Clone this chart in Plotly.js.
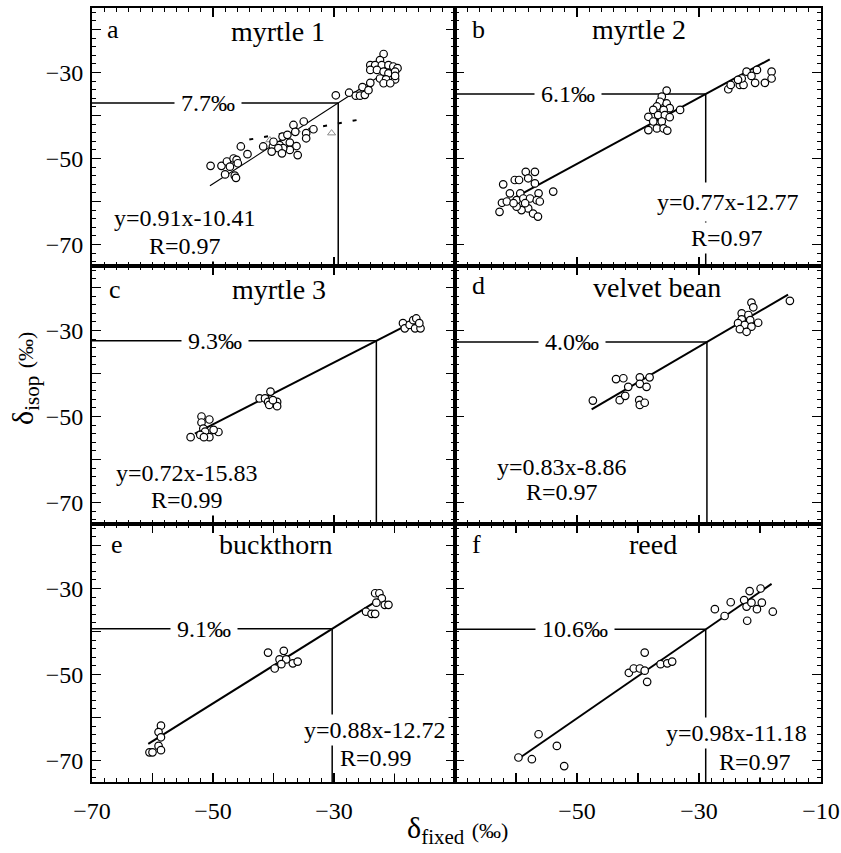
<!DOCTYPE html>
<html><head><meta charset="utf-8">
<script src="https://cdn.plot.ly/plotly-3.0.1.min.js"></script>
<style>body{margin:0;background:#fff}</style>
</head><body><div id="chart" style="width:841px;height:853px"></div>
<script>
// ---------- data ----------
// panel a: myrtle 1
const aX = [-50.4,-48.6,-47.7,-46.6,-46.1,-47.2,-45.9,-48.0,-46.4,-46.2,-45.4,-44.3,
  -41.7,-40.1,-39.0,-38.5,-36.7,-35.0,-33.4,-34.6,-34.6,-37.7,-37.3,-36.2,-36.0,-37.3,-38.4,-39.2,-40.3,-38.6,-40.0,-36.4,
  -29.7,-27.5,-26.4,-25.7,-24.9,-25.3,-24.3,-24.0,
  -21.8,-22.4,-24.0,-23.2,-22.1,-21.0,-20.2,-19.5,-24.0,-22.9,-21.8,-21.0,-19.9,-22.4,-21.4,-19.9,-21.8,-20.7,-19.9];
const aY = [-51.7,-51.7,-50.7,-50.0,-50.3,-51.9,-51.1,-53.7,-54.0,-54.5,-47.2,-49.0,
  -47.2,-47.2,-46.9,-44.9,-42.2,-41.4,-43.2,-44.1,-45.3,-44.5,-46.3,-47.1,-49.2,-48.0,-47.6,-47.6,-48.4,-48.8,-46.1,-43.8,
  -35.3,-34.7,-35.4,-35.4,-35.2,-33.4,-34.1,-32.4,
  -25.7,-27.1,-28.3,-28.3,-28.3,-28.3,-28.6,-29.0,-29.4,-29.4,-29.8,-30.2,-29.8,-31.4,-31.6,-31.6,-32.5,-32.5,-30.8];
const aTriX = [-40.6,-39.6,-36.2,-30.4];
const aTriY = [-45.7,-46.5,-43.4,-44.1];
const aDashX = [-44.0,-24.8];
const aDashY = [-45.6,-40.7];
// panel b: myrtle 2
const bX = [-62.7,-62.3,-62.1,-61.0,-60.2,-59.5,-58.4,-56.9,-58.0,-56.9,-59.3,-59.9,-58.8,-57.7,-56.3,-56.6,-56.1,-58.0,-59.1,-57.2,-56.4,-59.9,-53.9,-61.5,-60.4,-58.5,
  -35.3,-36.1,-36.4,-36.9,-35.3,-34.8,-35.8,-37.5,-38.3,-36.7,-35.6,-34.8,-33.1,-37.5,-36.1,-36.9,-38.3,-35.8,-35.2,
  -25.2,-24.8,-23.3,-22.7,-23.0,-22.2,-21.4,-20.8,-20.5,-19.2,-18.1,-18.1,-23.6];
const bY = [-62.4,-60.3,-56.0,-58.1,-55.0,-55.0,-53.1,-53.1,-54.6,-55.8,-58.1,-59.7,-59.3,-59.3,-58.1,-59.7,-60.0,-61.6,-62.0,-62.8,-63.5,-61.2,-57.7,-60.0,-60.4,-60.4,
  -34.2,-35.6,-36.8,-37.9,-37.2,-38.3,-38.7,-38.7,-40.3,-39.9,-39.9,-40.4,-38.7,-41.4,-41.4,-43.0,-43.4,-43.0,-43.5,
  -33.9,-32.9,-32.9,-32.9,-31.4,-29.8,-30.8,-32.4,-29.4,-32.4,-29.8,-31.4,-31.7];
// panel c: myrtle 3
const cX = [-53.7,-51.9,-50.6,-51.9,-51.6,-51.3,-52.1,-50.6,-51.5,-49.1,-49.9,
  -42.3,-41.4,-40.5,-40.9,-40.7,-39.4,-39.4,-40.1,
  -18.6,-18.3,-17.5,-16.9,-16.4,-16.6,-15.7,-15.9];
const cY = [-54.8,-50.0,-50.7,-51.4,-52.8,-53.5,-54.3,-54.8,-54.8,-53.6,-53.1,
  -45.8,-45.8,-44.2,-46.6,-47.3,-46.6,-47.6,-46.2,
  -28.3,-29.5,-28.7,-27.6,-27.2,-29.5,-29.5,-28.3];
// panel d: velvet bean
const dX = [-47.4,-43.6,-42.4,-41.6,-43.0,-42.1,-39.7,-38.1,-39.7,-38.6,-39.8,-39.7,-38.9,
  -21.4,-21.1,-23.0,-21.9,-23.0,-21.6,-20.3,-23.6,-22.5,-21.4,-23.3,-22.2,-15.1];
const dY = [-46.3,-41.3,-41.1,-43.1,-46.2,-45.2,-40.9,-40.9,-42.4,-43.1,-46.2,-47.3,-46.8,
  -23.5,-24.6,-26.0,-26.4,-27.4,-27.6,-28.2,-28.3,-28.7,-29.1,-29.7,-30.3,-23.1];
// panel e: buckthorn
const eX = [-58.6,-59.0,-58.6,-59.0,-58.6,-60.5,-60.0,
  -40.9,-38.3,-39.0,-37.9,-38.7,-39.8,-36.8,-36.0,
  -23.2,-22.5,-22.1,-23.0,-21.6,-21.0,-24.7,-23.8,-23.2];
const eY = [-61.9,-63.4,-64.6,-66.6,-67.6,-68.1,-68.1,
  -44.9,-44.5,-46.5,-46.5,-47.6,-48.6,-47.4,-47.0,
  -31.1,-31.1,-32.3,-33.3,-33.8,-33.8,-35.4,-35.9,-35.9];
// panel f: reed
const fX = [-59.6,-57.4,-56.3,-53.3,-52.1,
  -41.5,-40.7,-39.7,-38.9,-38.9,-38.5,-36.3,-35.2,-34.4,
  -27.4,-25.8,-24.8,-22.6,-21.7,-19.9,-22.2,-21.4,-20.5,-19.7,-22.1,-17.9];
const fY = [-69.3,-69.7,-63.9,-66.6,-71.3,
  -49.6,-48.6,-48.6,-49.1,-44.9,-51.7,-47.6,-47.4,-47.0,
  -34.8,-36.4,-33.2,-32.7,-30.6,-30.0,-34.2,-33.3,-34.8,-33.3,-37.5,-35.4];

const panelNames   = ['myrtle 1','myrtle 2','myrtle 3','velvet bean','buckthorn','reed'];
const panelLetters = ['a','b','c','d','e','f'];
const slopes       = [0.91,0.77,0.72,0.83,0.88,0.98];
const intercepts   = [-10.41,-12.77,-15.83,-8.86,-12.72,-11.18];
const rValues      = ['0.97','0.97','0.99','0.97','0.99','0.97'];
const fitStart     = [-50.5,-60.5,-53.0,-47.6,-60.7,-59.3];
const fitEnd       = [-20.5,-18.4,-17.2,-15.4,-21.8,-18.1];
const refX         = [-29.3,-28.9,-23.0,-28.7,-30.3,-28.9];
const diffLabels   = ['7.7‰','6.1‰','9.3‰','4.0‰','9.1‰','10.6‰'];
const xTickVals    = [-70,-60,-50,-40,-30,-20,-10];
const xTickTextL   = ['−70','','−50','','−30','',''];
const xTickTextR   = ['','','−50','','−30','','−10'];
const yTickVals    = [-70,-60,-50,-40,-30,-20];
const yTickText    = ['−70','','−50','','−30',''];

const xsAll = [aX,bX,cX,dX,eX,fX];
const ysAll = [aY,bY,cY,dY,eY,fY];

// ---------- layout helpers (positions/styles) ----------
const FONT = 'Liberation Serif, Times New Roman, serif';
const titlePos  = [[0.512,0.907],[0.503,0.915],[0.515,0.907],[0.552,0.915],[0.507,0.919],[0.541,0.919]];
const letterPos = [[0.058,0.915],[0.063,0.915],[0.063,0.907],[0.063,0.926],[0.069,0.919],[0.060,0.919]];
const eqPos     = [[0.256,0.186],[0.747,0.248],[0.262,0.198],[0.292,0.221],[0.780,0.202],[0.770,0.190]];
const rPos      = [[0.256,0.078],[0.743,0.109],[0.262,0.093],[0.292,0.124],[0.782,0.093],[0.820,0.078]];
const eqPad     = [2,6,2,2,2,2];
const diffPosX  = [0.320,0.309,0.339,0.320,0.309,0.328];
const colDom = [[0,0.49794],[0.49794,1]];
const rowDom = [[2/3,1],[1/3,2/3],[0,1/3]];

const traces = [], shapes = [], annotations = [];
const layout = {
  width:841, height:853,
  margin:{l:92,r:20,t:8,b:71},
  paper_bgcolor:'white', plot_bgcolor:'white',
  showlegend:false,
  font:{family:FONT,color:'black'}
};

for (let i=0;i<6;i++){
  const n = i+1, sfx = i===0 ? '' : String(n);
  const xa = 'x'+sfx, ya = 'y'+sfx;
  const col = i%2, row = Math.floor(i/2);
  const axBase = {
    showline:true, linewidth:2, linecolor:'black', mirror:'allticks',
    ticks:'inside', ticklen:9, tickwidth:1.3, tickcolor:'black',
    showgrid:false, zeroline:false, fixedrange:true,
    tickfont:{family:FONT,size:24,color:'black'},
    minor:{tickmode:'linear', tick0:-70, dtick:2, ticks:'inside', ticklen:4, tickwidth:1, tickcolor:'black', showgrid:false}
  };
  layout['xaxis'+sfx] = Object.assign({}, axBase, {
    domain: colDom[col], range:[-70,-10], anchor: ya,
    tickmode:'array', tickvals:xTickVals, ticktext: col===0 ? xTickTextL : xTickTextR,
    showticklabels: row===2, ticklabelstandoff: 6
  });
  layout['yaxis'+sfx] = Object.assign({}, axBase, {
    domain: rowDom[row], range:[-75,-15], anchor: xa,
    tickmode:'array', tickvals:yTickVals, ticktext:yTickText,
    showticklabels: col===0, ticklabelstandoff: 2
  });

  const m = slopes[i], b = intercepts[i];
  traces.push({type:'scatter', mode:'lines', xaxis:xa, yaxis:ya,
    x:[fitStart[i], fitEnd[i]], y:[m*fitStart[i]+b, m*fitEnd[i]+b],
    line:{color:'black', width: i===0 ? 1.2 : 2}, hoverinfo:'skip'});
  if (i===0){
    traces.push({type:'scatter', mode:'lines', xaxis:xa, yaxis:ya,
      x:aDashX, y:aDashY, line:{color:'black', width:2, dash:'4px,11px'}, hoverinfo:'skip'});
    traces.push({type:'scatter', mode:'markers', xaxis:xa, yaxis:ya,
      x:aTriX, y:aTriY, marker:{symbol:'triangle-up-open', size:7, color:'#8a8a8a', line:{width:1}}});
  }
  traces.push({type:'scatter', mode:'markers', xaxis:xa, yaxis:ya,
    x:xsAll[i], y:ysAll[i],
    marker:{symbol:'circle', size:7.5, color:'white', line:{color:'black', width:1.2}}});

  const yr = m*refX[i]+b;
  shapes.push({type:'line', layer:'below', xref:xa, yref:ya, x0:-70, x1:refX[i], y0:yr, y1:yr, line:{color:'black', width:1.5}});
  shapes.push({type:'line', layer:'below', xref:xa, yref:ya, x0:refX[i], x1:refX[i], y0:yr, y1:-75, line:{color:'black', width:1.5}});

  const xd = xa+' domain', yd = ya+' domain';
  annotations.push({xref:xd, yref:ya, x:diffPosX[i], y:yr, text:diffLabels[i], showarrow:false,
    font:{family:FONT,size:24,color:'black'}, bgcolor:'white', borderpad:6, xanchor:'center', yanchor:'middle'});
  annotations.push({xref:xd, yref:yd, x:titlePos[i][0], y:titlePos[i][1], text:panelNames[i], showarrow:false,
    font:{family:FONT,size:28,color:'black'}, xanchor:'center', yanchor:'middle'});
  annotations.push({xref:xd, yref:yd, x:letterPos[i][0], y:letterPos[i][1], text:panelLetters[i], showarrow:false,
    font:{family:FONT,size:26,color:'black'}, xanchor:'center', yanchor:'middle'});
  const eqText = 'y=' + m.toFixed(2) + 'x' + b.toFixed(2);
  annotations.push({xref:xd, yref:yd, x:eqPos[i][0], y:eqPos[i][1], text:eqText, showarrow:false,
    font:{family:FONT,size:24,color:'black'}, bgcolor:'white', borderpad:eqPad[i], xanchor:'center', yanchor:'middle'});
  annotations.push({xref:xd, yref:yd, x:rPos[i][0], y:rPos[i][1], text:'R='+rValues[i], showarrow:false,
    font:{family:FONT,size:24,color:'black'}, bgcolor:'white', borderpad:2, xanchor:'center', yanchor:'middle'});
}

annotations.push({xref:'paper', yref:'paper', x:0.502, y:-0.062, text:'δ<sub>fixed</sub> <span style="font-size:22px">(‰)</span>',
  showarrow:false, font:{family:FONT,size:30,color:'black'}, xanchor:'center', yanchor:'middle'});
annotations.push({xref:'paper', yref:'paper', x:-0.092, y:0.522, text:'δ<sub>isop</sub> <span style="font-size:22px">(‰)</span>',
  showarrow:false, textangle:-90, font:{family:FONT,size:30,color:'black'}, xanchor:'center', yanchor:'middle'});

layout.shapes = shapes;
layout.annotations = annotations;
Plotly.newPlot('chart', traces, layout, {staticPlot:true, displayModeBar:false});
</script>
</body></html>
